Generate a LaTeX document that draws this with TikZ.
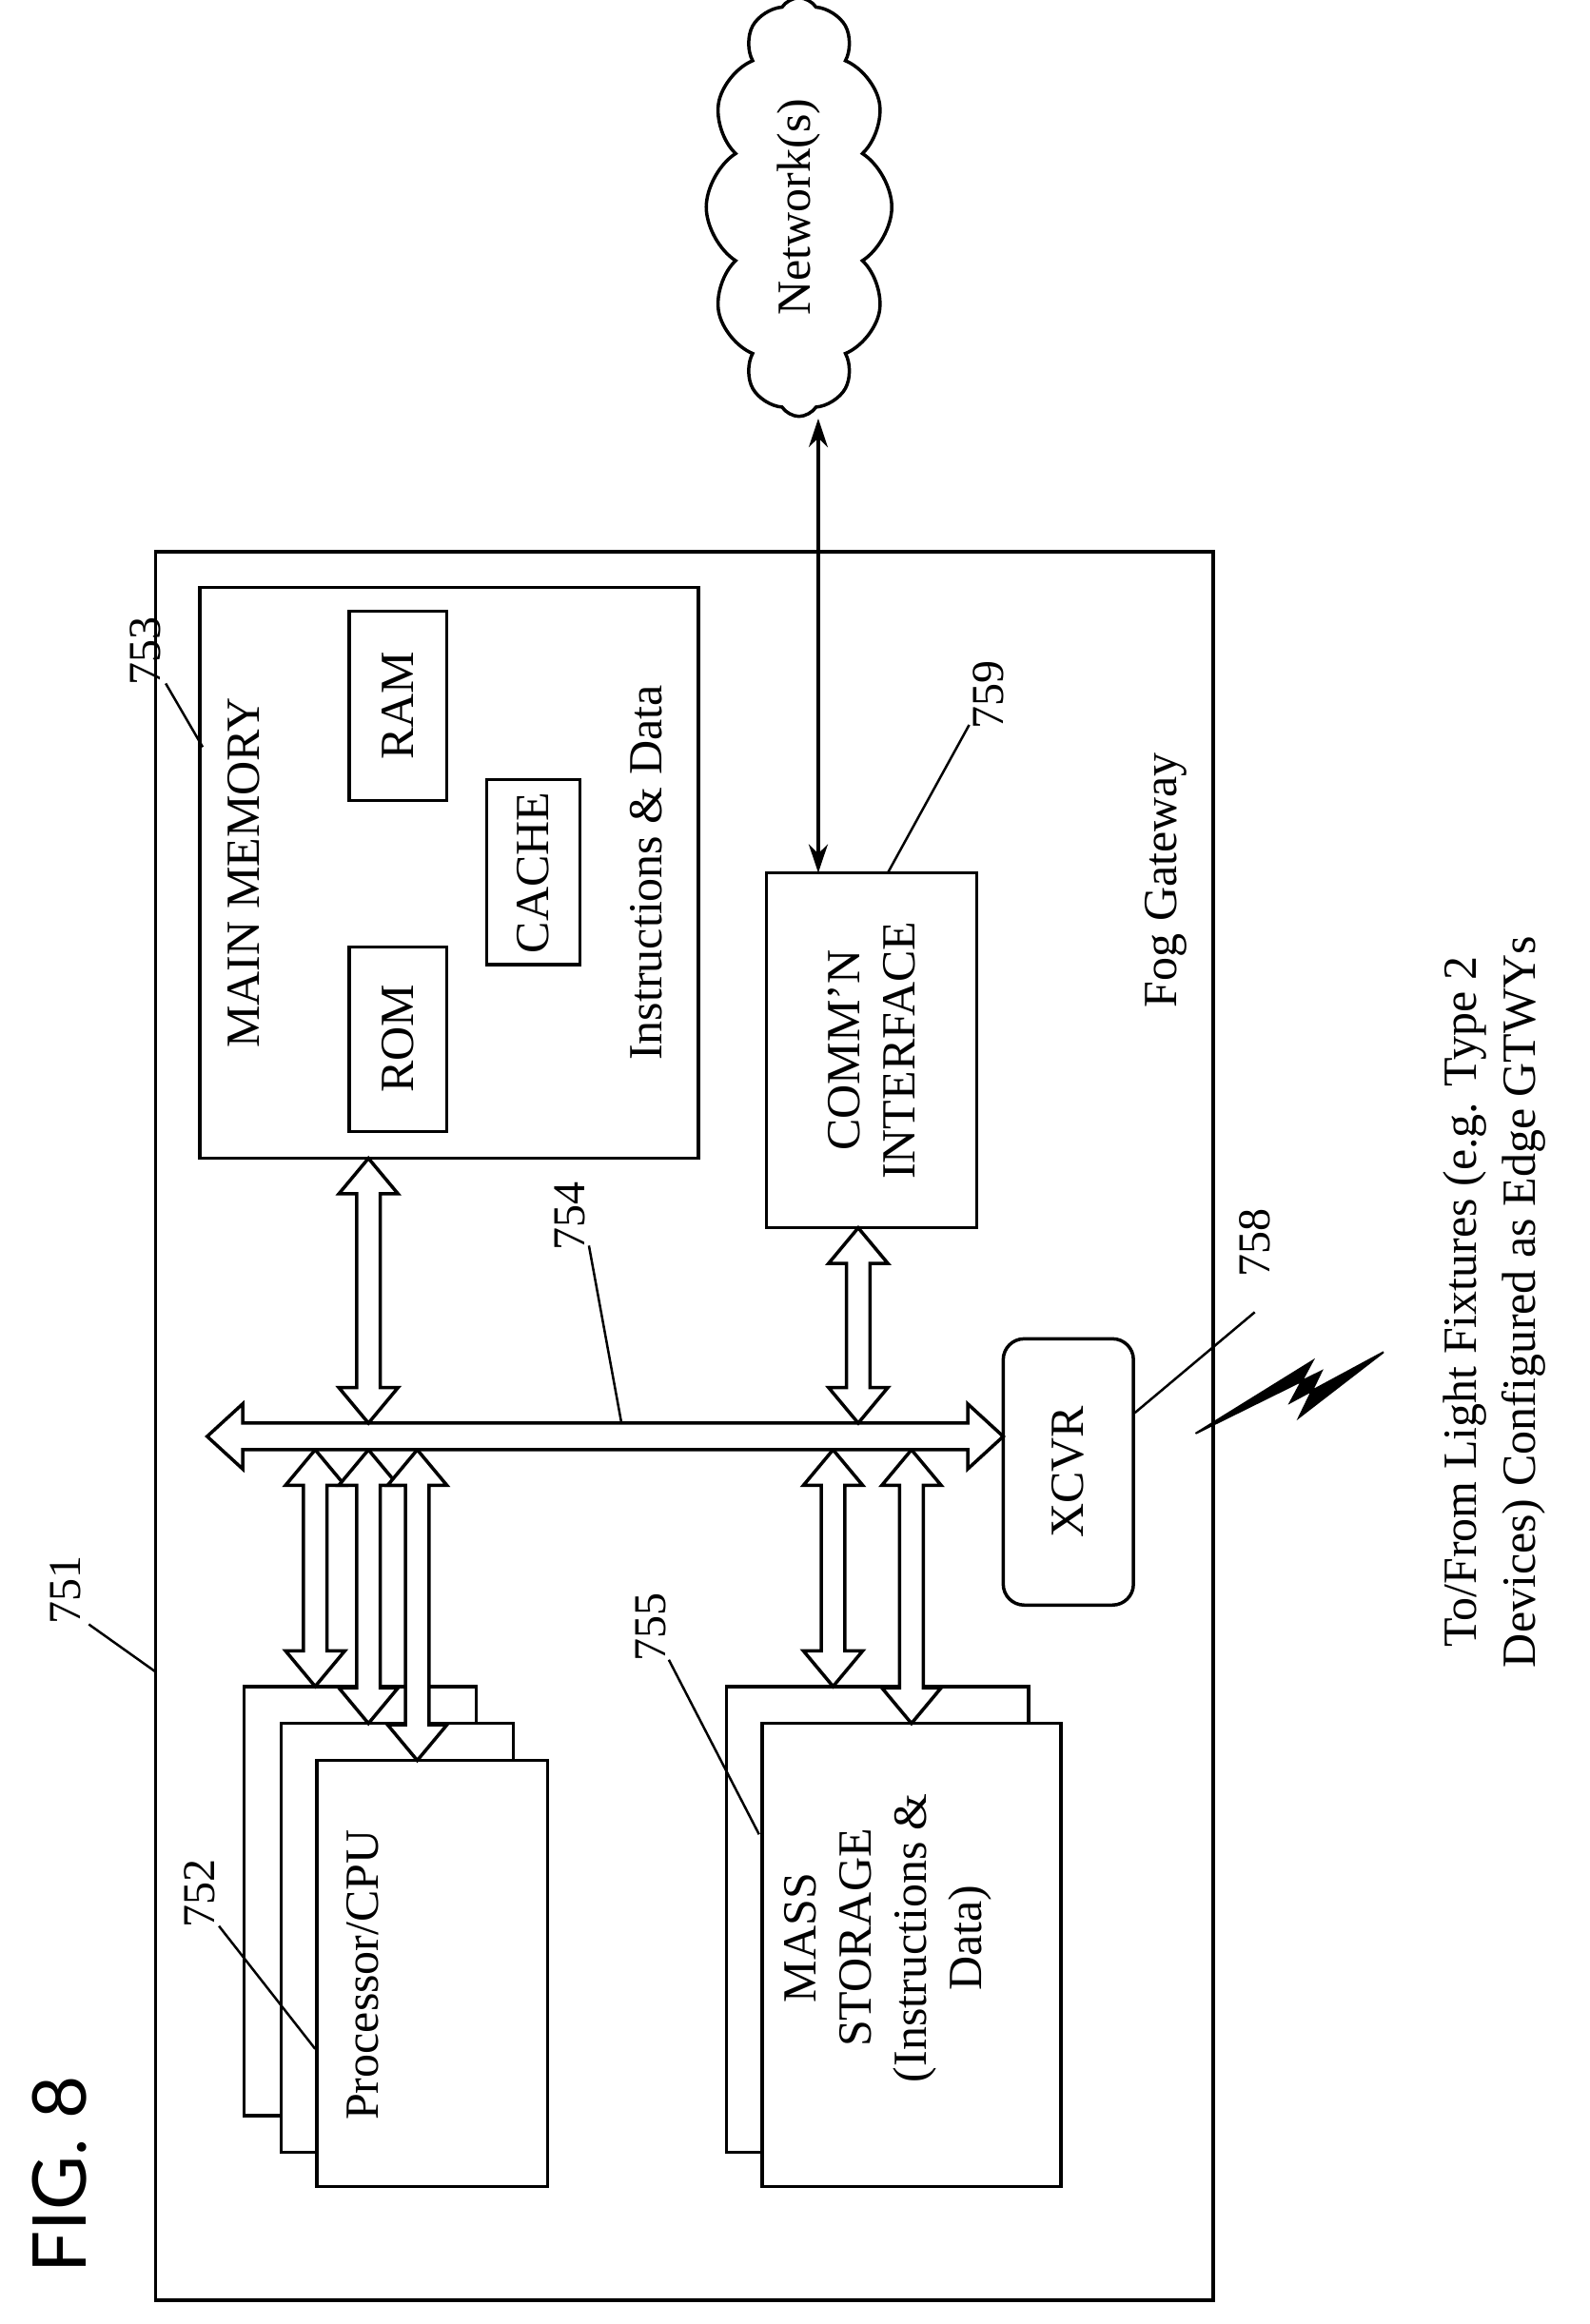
\documentclass[tikz,border=0pt]{standalone}
\usepackage{fontspec}
\setmainfont{Liberation Serif}
\newfontfamily\figfont{Lato}
\usetikzlibrary{shapes.symbols,arrows.meta}
\newcommand{\vdarr}[3]{% x, top tip, bottom tip
  \filldraw[fill=white] (#1,#2) -- ++(20,24) -- ++(-12,0) -- (#1+8,#3-24) -- ++(12,0) -- (#1,#3) -- ++(-20,-24) -- ++(12,0) -- (#1-8,#2+24) -- ++(-12,0) -- cycle;}
\begin{document}
\begin{tikzpicture}[x=1.555pt,y=-1.555pt,line width=3.5pt,line join=miter,
  txt/.style={rotate=90,font=\fontsize{50}{58}\selectfont,align=center,inner sep=0},
  num/.style={rotate=90,font=\fontsize{48}{54}\selectfont,inner sep=0},
  box/.style={draw,fill=white}]
\useasboundingbox (0,0) rectangle (1074,1571);
% outer
\draw (105,373) rectangle (820,1555);
% memory
\draw (135,397) rectangle (472,783);
\draw (236,640) rectangle (302,765);
\draw (236,413) rectangle (302,541);
\draw (329,527) rectangle (392,652);
\node[txt] (mm) at (165,590) {MAIN MEMORY};
\node[txt] (rom) at (269,702) {ROM};
\node[txt] (ram) at (269,477) {RAM};
\node[txt] (cache) at (360,590) {CACHE};
\node[txt] (id) at (437,590) {Instructions \& Data};
% comm
\draw (518,590) rectangle (660,830);
\node[txt] (comm) at (589,710) {COMM'N\\INTERFACE};
% xcvr
\draw[rounded corners=22pt] (678,905) rectangle (766,1085);
\node[txt] (xcvr) at (722,995) {XCVR};
% processor pages
\draw[box] (165,1140) rectangle (322,1430);
\draw[box] (190,1165) rectangle (347,1455);
\vdarr{213}{980}{1140}
\vdarr{249}{980}{1165}
\draw[box] (214,1190) rectangle (370,1478);
\vdarr{282}{980}{1190}
\node[txt] (cpu) at (245,1335) {Processor/CPU};
% storage
\draw[box] (491,1140) rectangle (695,1455);
\vdarr{563}{980}{1140}
\draw[box] (515,1165) rectangle (717,1478);
\vdarr{616}{980}{1165}
\node[txt] (ms) at (600,1310) {MASS\\STORAGE\\(Instructions \&\\Data)};
% bus
\filldraw[fill=white] (140,971) -- (164,949) -- (164,962) -- (654,962) -- (654,949) -- (678,971) -- (654,993) -- (654,980) -- (164,980) -- (164,993) -- cycle;
\vdarr{249}{783}{962}
\vdarr{580}{830}{962}
% cloud
\node[cloud,draw,cloud puffs=12,cloud puff arc=115,aspect=2.3,minimum width=440pt,minimum height=195pt,rotate=90,inner sep=0] (net) at (540,140) {};
\node[txt] (nett) at (540,140) {Network(s)};
\coordinate (na) at (553,283);
\coordinate (nb) at (553,590);
\draw[{Stealth[length=30pt,width=20pt]}-{Stealth[length=30pt,width=20pt]}] (na) -- (nb);
% labels
\node[num] (l753) at (98,440) {753};
\draw[line width=2.5pt] (112,462) -- (137,505);
\node[num] (l751) at (44,1075) {751};
\draw[line width=2.5pt] (60,1098) -- (105,1130);
\node[num] (l752) at (135,1280) {752};
\draw[line width=2.5pt] (148,1302) -- (213,1385);
\node[num] (l755) at (440,1100) {755};
\draw[line width=2.5pt] (452,1122) -- (513,1240);
\node[num] (l754) at (385,822) {754};
\draw[line width=2.5pt] (398,842) -- (420,962);
\node[num] (l759) at (668,470) {759};
\draw[line width=2.5pt] (655,490) -- (600,590);
\node[num] (l758) at (848,840) {758};
\draw[line width=2.5pt] (848,887) -- (767,955);
% lightning
\filldraw[line width=2pt] (808,969) -- (893,927) -- (878,958) -- (935,914) -- (872,948) -- (887,920) -- cycle;
\node[txt] (fog) at (788,595) {Fog Gateway};
\node[txt] (t1) at (990,880) {To/From Light Fixtures (e.g. Type 2};
\node[txt] (t2) at (1030,880) {Devices) Configured as Edge GTWYs};
\node[rotate=90,font=\figfont\fontsize{78}{82}\selectfont,inner sep=0] (fig) at (40,1470) {FIG. 8};
\end{tikzpicture}
\end{document}
